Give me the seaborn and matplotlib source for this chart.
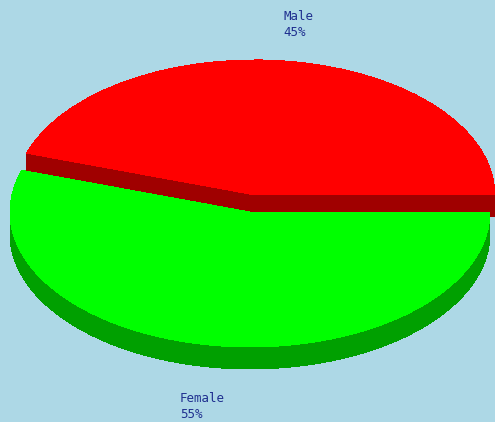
import numpy as np
import matplotlib
matplotlib.use("Agg")
import matplotlib.pyplot as plt
import seaborn as sns

# Data
categories = ["Male", "Female"]
values = [45, 55]
pct_labels = ["45%", "55%"]
top_colors = ["#FF0000", "#00FF00"]
side_colors = ["#A00000", "#00A000"]
explode = [0.128, 0.0]

sns.set_theme(style="white")
plt.rcParams["font.family"] = ["DejaVu Sans Mono", "DejaVu Sans"]

W, H = 495, 422
fig = plt.figure(figsize=(W / 100, H / 100), dpi=100, facecolor="#ADD8E6")
ax = fig.add_axes([0, 0, 1, 1])
ax.set_facecolor("#ADD8E6")

rx_px, ry_px = 240.0, 135.0
cx_px, cy_px = 250.0, 212.0
depth = 22.0 / ry_px
step = 1.0 / ry_px

wp = dict(linewidth=0, antialiased=False)
# side layers (3D depth)
for dy in np.arange(-depth, 0, step):
    ax.pie(values, colors=side_colors, explode=explode, startangle=0,
           center=(0, dy), radius=1.0, wedgeprops=wp)
# top surface
wedges, _ = ax.pie(values, colors=top_colors, explode=explode, startangle=0,
                   center=(0, 0), radius=1.0, wedgeprops=wp)

ax.set_aspect("auto")
ax.set_xlim(-cx_px / rx_px, (W - cx_px) / rx_px)
ax.set_ylim(-(H - cy_px) / ry_px, cy_px / ry_px)
ax.axis("off")

label_pos = [(283, 10), (180, 392)]
for cat, pct, (px, py) in zip(categories, pct_labels, label_pos):
    fig.text(px / W, 1 - py / H, f"{cat}\n{pct}", ha="left", va="top",
             fontsize=9, color="#1f2f8f", linespacing=1.25)

fig.savefig("out.png", dpi=100, facecolor=fig.get_facecolor())
